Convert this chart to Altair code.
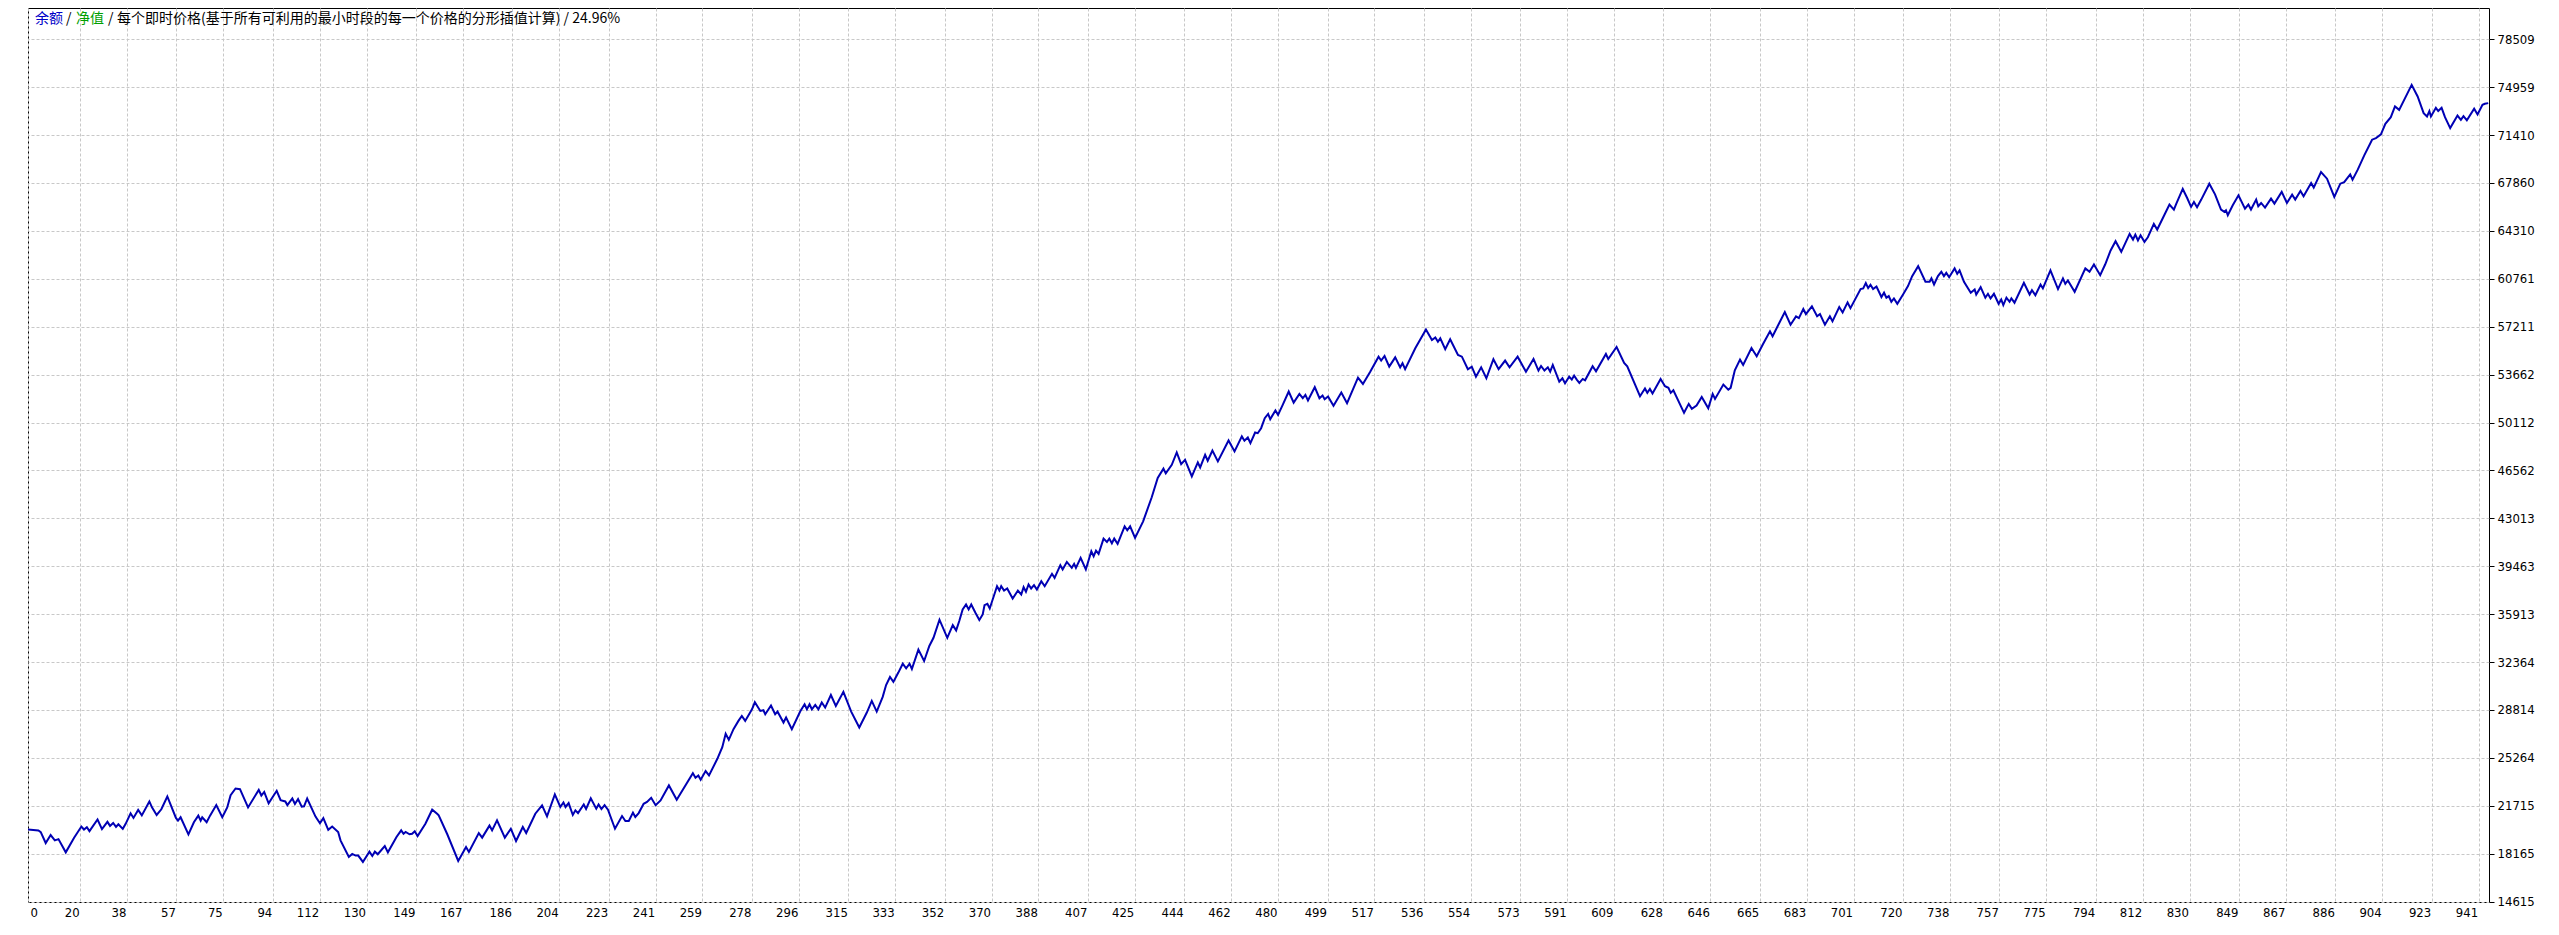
import altair as alt
import pandas as pd

# ---- data (trade number, balance) ----
trade = [
    0, 4.0, 4.9, 6.8, 8.7, 10.3, 11.7, 14.5, 17.7, 20.5, 21.5, 22.6, 23.6, 26.7, 28.4, 30.5, 31.5, 32.7, 33.8, 34.7,
    36.4, 37.5, 39.4, 40.5, 42.3, 43.7, 46.6, 47.6, 49.4, 51.2, 53.5, 56.8, 57.6, 58.6, 61.6, 63.7, 65.4, 66.3, 66.9, 68.6,
    69.9, 72.3, 74.6, 76.5, 77.8, 79.7, 81.4, 84.5, 88.6, 89.6, 90.7, 92.4, 95.5, 97.0, 98.8, 99.6, 101.5, 102.5, 103.7, 105.1,
    106.0, 107.2, 110.4, 112.1, 113.4, 115.3, 116.8, 119.1, 120.0, 123.2, 124.5, 125.8, 126.8, 128.6, 131.1, 132.2, 133.2, 134.3, 137.0, 138.2,
    141.5, 143.3, 144.2, 145.0, 146.5, 147.5, 148.5, 149.6, 152.6, 155.2, 157.1, 157.7, 161.0, 165.2, 168.2, 169.3, 173.1, 174.4, 177.2, 178.2,
    180.1, 183.1, 185.4, 187.4, 190.0, 191.3, 194.8, 197.4, 199.3, 202.3, 204.4, 205.6, 206.4, 207.6, 209.2, 210.2, 211.2, 213.4, 214.3, 216.1,
    218.2, 219.1, 220.2, 221.4, 222.7, 225.4, 228.1, 229.4, 230.7, 232.3, 233.2, 234.5, 236.4, 237.7, 239.3, 241.0, 242.9, 246.1, 249.1, 255.3,
    256.3, 257.4, 258.3, 260.2, 261.5, 264.7, 266.6, 267.9, 269.1, 270.9, 272.8, 274.1, 275.4, 278.0, 279.1, 281.2, 282.4, 283.1, 285.3, 286.9,
    287.8, 290.1, 291.1, 293.3, 296.5, 298.2, 299.1, 300.1, 301.0, 302.3, 303.5, 304.8, 306.1, 308.3, 310.2, 313.1, 316.1, 319.2, 322.1, 324.0,
    325.9, 328.2, 329.5, 331.0, 332.3, 334.2, 335.9, 337.2, 338.5, 339.4, 341.9, 344.1, 346.1, 347.7, 350.0, 353.0, 355.1, 356.4, 357.6, 358.9,
    360.2, 361.2, 362.2, 363.8, 365.3, 366.6, 367.3, 368.4, 369.3, 372.1, 373.0, 373.7, 374.8, 376.0, 378.1, 380.1, 381.4, 382.3, 383.2, 384.2,
    385.2, 386.3, 387.4, 389.1, 390.4, 393.2, 394.2, 396.4, 397.3, 398.9, 400.8, 401.7, 402.4, 404.2, 406.2, 408.3, 409.2, 410.1, 411.1, 413.0,
    414.3, 415.2, 416.2, 417.1, 418.4, 421.1, 422.1, 423.2, 425.1, 428.2, 431.5, 433.8, 436.0, 436.9, 439.2, 441.1, 442.8, 444.3, 446.9, 449.2,
    450.1, 452.0, 453.0, 454.8, 456.9, 461.0, 463.3, 466.1, 467.1, 468.4, 469.4, 471.2, 472.2, 473.5, 474.9, 476.2, 477.0, 479.0, 480.0, 481.8,
    484.1, 486.0, 488.2, 489.5, 490.5, 491.5, 494.1, 495.9, 497.1, 497.9, 499.2, 501.3, 504.3, 506.5, 510.7, 512.6, 515.4, 518.6, 519.6, 520.9,
    522.7, 525.0, 526.9, 527.8, 528.8, 532.7, 536.8, 539.1, 540.4, 541.4, 542.3, 544.2, 546.1, 549.1, 550.6, 552.9, 554.4, 556.0, 558.0, 560.0,
    562.7, 564.7, 567.2, 568.9, 572.0, 575.2, 578.1, 580.0, 581.0, 582.3, 583.6, 584.5, 585.5, 588.0, 589.2, 590.2, 591.8, 592.8, 593.7, 594.7,
    595.7, 597.0, 597.9, 600.8, 602.1, 605.9, 606.8, 610.0, 612.9, 614.1, 619.0, 620.9, 621.8, 622.8, 623.8, 626.9, 628.6, 629.9, 630.8, 631.8,
    635.9, 637.7, 638.9, 640.7, 642.7, 645.2, 646.9, 647.8, 651.0, 652.9, 653.8, 655.4, 657.4, 658.6, 661.8, 663.8, 666.3, 668.9, 669.9, 674.6,
    676.8, 678.9, 680.0, 681.7, 682.7, 685.0, 687.0, 688.1, 690.0, 691.9, 692.9, 695.5, 696.8, 698.7, 699.8, 703.7, 704.7, 705.7, 706.6, 707.5,
    708.5, 709.8, 711.7, 712.7, 713.6, 714.5, 715.5, 716.5, 717.8, 720.0, 721.9, 723.5, 725.8, 728.6, 730.2, 730.9, 731.9, 733.4, 734.7, 735.7,
    736.6, 737.7, 739.8, 740.8, 741.7, 743.4, 746.0, 747.5, 748.1, 749.8, 751.6, 752.6, 753.6, 754.9, 756.7, 757.7, 758.5, 759.7, 760.9, 761.6,
    762.8, 766.4, 768.6, 769.5, 770.8, 772.8, 773.7, 776.6, 779.5, 781.4, 782.3, 783.3, 785.9, 790.0, 791.6, 793.3, 795.7, 797.6, 799.7, 801.6,
    803.8, 807.0, 808.3, 809.2, 810.2, 811.2, 812.7, 814.0, 816.3, 817.6, 822.3, 824.0, 824.9, 827.4, 829.1, 830.6, 831.7, 832.9, 834.5, 837.6,
    839.8, 842.1, 843.4, 844.0, 844.7, 846.6, 848.8, 851.3, 852.6, 853.6, 855.6, 856.4, 857.5, 859.0, 861.3, 862.6, 865.4, 867.4, 869.4, 870.6,
    872.6, 873.8, 876.7, 877.7, 880.5, 882.8, 885.6, 887.9, 889.4, 891.7, 892.6, 894.6, 897.1, 900.1, 901.6, 903.5, 905.2, 907.3, 908.9, 910.5,
    915.3, 917.6, 919.9, 921.2, 922.1, 922.7, 924.6, 925.5, 926.8, 928.1, 930.1, 932.9, 934.2, 935.2, 936.5, 939.3, 940.6, 942.5, 943.4, 944.7,
]
balance = [
    19950, 19880, 19760, 18950, 19540, 19150, 19240, 18260, 19340, 20170, 19950, 20120, 19830, 20690, 19980, 20520, 20220, 20440, 20150, 20340,
    20000, 20370, 21150, 20810, 21400, 21000, 22030, 21590, 21030, 21450, 22400, 20810, 20610, 20860, 19590, 20490, 20980, 20610, 20860, 20490,
    20980, 21760, 20860, 21590, 22500, 22990, 22940, 21590, 22890, 22470, 22740, 21890, 22820, 22130, 22030, 21760, 22250, 21840, 22210, 21640,
    21670, 22250, 20910, 20420, 20790, 19930, 20170, 19760, 19150, 17920, 18140, 18020, 18020, 17550, 18310, 17990, 18310, 18120, 18730, 18260,
    19400, 19890, 19640, 19770, 19600, 19640, 19820, 19470, 20380, 21420, 21120, 21000, 19600, 17620, 18660, 18290, 19690, 19350, 20240, 19890,
    20630, 19350, 20010, 19100, 20140, 19690, 21120, 21740, 20930, 22550, 21620, 21960, 21620, 21910, 21030, 21370, 21170, 21810, 21470, 22260,
    21490, 21810, 21470, 21760, 21420, 20010, 20950, 20580, 20580, 21200, 20880, 21170, 21860, 21990, 22300, 21750, 22110, 23220, 22160, 24130,
    23790, 23960, 23640, 24280, 23960, 25190, 26050, 27040, 26600, 27390, 28000, 28370, 28000, 28860, 29380, 28740, 28790, 28490, 29140, 28490,
    28690, 27880, 28250, 27390, 28690, 29230, 28860, 29230, 28860, 29180, 28860, 29360, 28990, 29920, 29110, 30150, 28690, 27510, 28620, 29480,
    28690, 29780, 30660, 31250, 30890, 31580, 32240, 31900, 32240, 31850, 33280, 32440, 33550, 34160, 35500, 34160, 35100, 34710, 35400, 36260,
    36630, 36260, 36630, 36010, 35470, 35890, 36580, 36680, 36330, 37980, 37660, 37980, 37660, 37810, 37070, 37660, 37370, 37910, 37570, 38110,
    37810, 38060, 37740, 38350, 37980, 38900, 38600, 39540, 39220, 39780, 39340, 39640, 39340, 40080, 39220, 40570, 40200, 40620, 40380, 41510,
    41260, 41510, 41160, 41510, 41120, 42420, 42130, 42420, 41560, 42790, 44570, 46000, 46690, 46340, 46980, 47890, 47030, 47350, 46120, 47150,
    46780, 47720, 47280, 48040, 47230, 48780, 47970, 49080, 48760, 49000, 48580, 49370, 49320, 49690, 50430, 50750, 50360, 51000, 50680, 51420,
    52410, 51590, 52230, 51910, 52160, 51740, 52730, 51910, 52110, 51840, 52040, 51350, 52330, 51540, 53440, 52970, 53880, 54990, 54700, 55040,
    54250, 54940, 54200, 54500, 54060, 55610, 57010, 56230, 56420, 56100, 56350, 55540, 56280, 55120, 54990, 54060, 54250, 53510, 54200, 53390,
    54800, 54060, 54700, 54200, 54990, 53880, 54820, 53960, 54300, 53960, 54200, 53880, 54380, 53140, 53390, 53020, 53510, 53290, 53590, 53290,
    53050, 53340, 53240, 54280, 53910, 55190, 54820, 55710, 54530, 54280, 52060, 52630, 52310, 52600, 52260, 53340, 52800, 52680, 52310, 52500,
    50830, 51490, 51120, 51370, 52010, 51170, 52230, 51860, 52920, 52550, 52680, 53980, 54770, 54380, 55630, 55020, 55950, 56870, 56500, 58300,
    57360, 57980, 57850, 58520, 58150, 58720, 57980, 58150, 57360, 57980, 57610, 58670, 58270, 59010, 58590, 60000, 60050, 60440, 60070, 60320,
    60000, 60190, 59410, 59730, 59360, 59480, 59060, 59310, 58910, 59600, 60220, 60960, 61700, 60540, 60540, 60790, 60340, 60960, 61280, 60960,
    61200, 60880, 61530, 61130, 61380, 60540, 59730, 59970, 59600, 60140, 59360, 59650, 59310, 59650, 58910, 59230, 58810, 59360, 59060, 59310,
    58990, 60470, 59600, 59920, 59550, 60340, 60050, 61380, 60000, 60790, 60390, 60640, 59800, 61530, 61280, 61820, 61030, 61820, 62860, 63550,
    62760, 64090, 63670, 64040, 63600, 63990, 63500, 63840, 64830, 64410, 66260, 65890, 66310, 67420, 66750, 66090, 66460, 66060, 66630, 67810,
    67020, 65890, 65720, 65840, 65470, 66210, 66950, 65960, 66260, 65890, 66630, 66140, 66380, 66040, 66700, 66330, 67200, 66380, 67000, 66630,
    67270, 66870, 67860, 67520, 68670, 68180, 66830, 67810, 67930, 68500, 68110, 68850, 69910, 71070, 71190, 71460, 72250, 72740, 73530, 73280,
    75130, 74270, 73040, 72790, 73190, 72790, 73430, 73190, 73430, 72740, 71930, 72860, 72540, 72820, 72500, 73360, 72940, 73650, 73730, 73780,
]

x_ticks = [0, 20, 38, 57, 75, 94, 112, 130, 149, 167, 186, 204, 223, 241, 259, 278, 296, 315, 333, 352, 370, 388,
           407, 425, 444, 462, 480, 499, 517, 536, 554, 573, 591, 609, 628, 646, 665, 683, 701, 720, 738, 757,
           775, 794, 812, 830, 849, 867, 886, 904, 923, 941]
y_ticks = [14615, 18165, 21715, 25264, 28814, 32364, 35913, 39463, 43013, 46562, 50112, 53662, 57211,
           60761, 64310, 67860, 71410, 74959, 78509]

title_parts = ["余额", "/", "净值", "/", "每个即时价格(基于所有可利用的最小时段的每一个价格的分形插值计算) / 24.96%"]
title_colors = ["#0000C8", "#000000", "#00A000", "#000000", "#000000"]

df = pd.DataFrame({"trade": trade, "balance": balance})

AXFONT = "DejaVu Sans Condensed, DejaVu Sans"
CJK = "Noto Sans CJK SC"

line = alt.Chart(df).mark_line(color="#0000B4", strokeWidth=2, clip=True).encode(
    x=alt.X("trade:Q",
            scale=alt.Scale(domain=[0, 945], nice=False, zero=False),
            axis=alt.Axis(values=x_ticks, orient="bottom", title=None, format="d",
                          labelAlign={"condition": {"test": "datum.value === 0", "value": "left"}, "value": "right"},
                          labelOffset={"condition": {"test": "datum.value === 0", "value": 2}, "value": -1},
                          labelPadding=4, ticks=False, domain=False, labelFlush=False,
                          labelOverlap=False)),
    y=alt.Y("balance:Q",
            scale=alt.Scale(domain=[14580, 80828], nice=False, zero=False),
            axis=alt.Axis(values=y_ticks, orient="right", title=None, format="d",
                          tickSize=5, tickColor="#000000", labelPadding=3, domain=False,
                          labelOverlap=False, labelFlush=False)),
)

title_x = [7, 38, 48, 80, 89]
layers = [line]
for part, col, px in zip(title_parts, title_colors, title_x):
    layers.append(
        alt.Chart(pd.DataFrame({"t": [part]})).mark_text(
            align="left", baseline="middle", font=CJK, fontSize=14, color=col
        ).encode(text="t:N", x=alt.value(px), y=alt.value(11))
    )

chart = alt.layer(*layers).properties(
    width=2461, height=894,
    padding={"left": 20, "top": 0, "right": 5, "bottom": 5},
    background="#FFFFFF",
).configure_view(
    stroke="#000000", strokeWidth=1
).configure_axis(
    grid=True, gridColor="#C8C8C8", gridDash=[3, 2], gridWidth=1,
    labelFont=AXFONT, labelFontSize=13, labelColor="#000000",
)

chart.save("out.html", embed_options={"renderer": "svg", "actions": False})
